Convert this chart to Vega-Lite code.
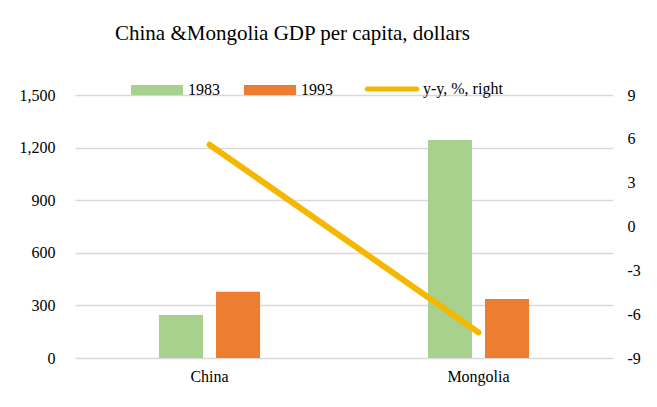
{
  "$schema": "https://vega.github.io/schema/vega-lite/v6.json",
  "width": 538,
  "height": 263,
  "autosize": "none",
  "padding": {"left": 75, "top": 95, "right": 44, "bottom": 49},
  "background": "white",
  "title": {
    "text": "China &Mongolia GDP per capita, dollars",
    "anchor": "start",
    "frame": "group",
    "dx": 40,
    "offset": 37,
    "font": "Liberation Serif",
    "fontSize": 21,
    "fontWeight": "normal",
    "color": "#000000"
  },
  "config": {
    "view": {"stroke": null},
    "axis": {
      "labelFont": "Liberation Serif",
      "labelFontSize": 16,
      "labelColor": "#000000",
      "domain": false,
      "ticks": false,
      "gridColor": "#d9d9d9",
      "gridWidth": 1.5,
      "title": null
    },
    "legend": {
      "labelFont": "Liberation Serif",
      "labelFontSize": 16,
      "labelColor": "#000000"
    }
  },
  "datasets": {
    "gdp": [
      {"country": "China", "series": "1983", "gdp": 245},
      {"country": "China", "series": "1993", "gdp": 378},
      {"country": "Mongolia", "series": "1983", "gdp": 1243},
      {"country": "Mongolia", "series": "1993", "gdp": 337}
    ],
    "yy": [
      {"country": "China", "series": "y-y, %, right", "yy": 5.6},
      {"country": "Mongolia", "series": "y-y, %, right", "yy": -7.25}
    ]
  },
  "layer": [
    {
      "data": {"name": "gdp"},
      "mark": {"type": "bar"},
      "encoding": {
        "x": {
          "field": "country", "type": "nominal",
          "scale": {"paddingInner": 0.2, "paddingOuter": 0.1},
          "axis": {"labelAngle": 0, "labelPadding": 10, "grid": false}
        },
        "xOffset": {
          "field": "series", "type": "nominal",
          "scale": {"domain": ["1983", "1993"], "paddingInner": 0.228, "paddingOuter": 1}
        },
        "y": {
          "field": "gdp", "type": "quantitative",
          "scale": {"domain": [0, 1500], "nice": false},
          "axis": {"values": [0, 300, 600, 900, 1200, 1500], "format": ",d", "labelPadding": 20, "grid": true}
        },
        "color": {
          "field": "series", "type": "nominal",
          "scale": {
            "domain": ["1983", "1993", "y-y, %, right"],
            "range": ["#A9D18E", "#ED7D31", "#F5B800"]
          },
          "legend": {
            "orient": "none",
            "legendX": 74,
            "legendY": -14,
            "direction": "horizontal",
            "title": null,
            "symbolType": "M-1,-0.19H1V0.19H-1Z",
            "symbolSize": 2704,
            "labelOffset": 23,
            "columnPadding": 24,
            "encode": {
              "symbols": {
                "update": {
                  "shape": {"signal": "datum.value === 'y-y, %, right' ? 'M-0.95,0H0.95' : 'M-1,-0.19H1V0.19H-1Z'"},
                  "fill": {"signal": "datum.value === 'y-y, %, right' ? 'transparent' : scale('color', datum.value)"},
                  "stroke": {"signal": "scale('color', datum.value)"},
                  "strokeWidth": {"signal": "datum.value === 'y-y, %, right' ? 5 : 0"},
                  "strokeCap": {"value": "round"},
                  "opacity": {"value": 1}
                }
              }
            }
          }
        }
      }
    },
    {
      "data": {"name": "yy"},
      "mark": {"type": "line", "strokeWidth": 6, "strokeCap": "round"},
      "encoding": {
        "x": {"field": "country", "type": "nominal"},
        "y": {
          "field": "yy", "type": "quantitative",
          "scale": {"domain": [-9, 9], "nice": false},
          "axis": {"orient": "right", "values": [-9, -6, -3, 0, 3, 6, 9], "labelExpr": "replace(datum.label, '−', '-')", "labelPadding": 14, "grid": false, "labelAlign": "left"}
        },
        "color": {"field": "series", "type": "nominal"}
      }
    }
  ],
  "resolve": {"scale": {"y": "independent"}}
}
